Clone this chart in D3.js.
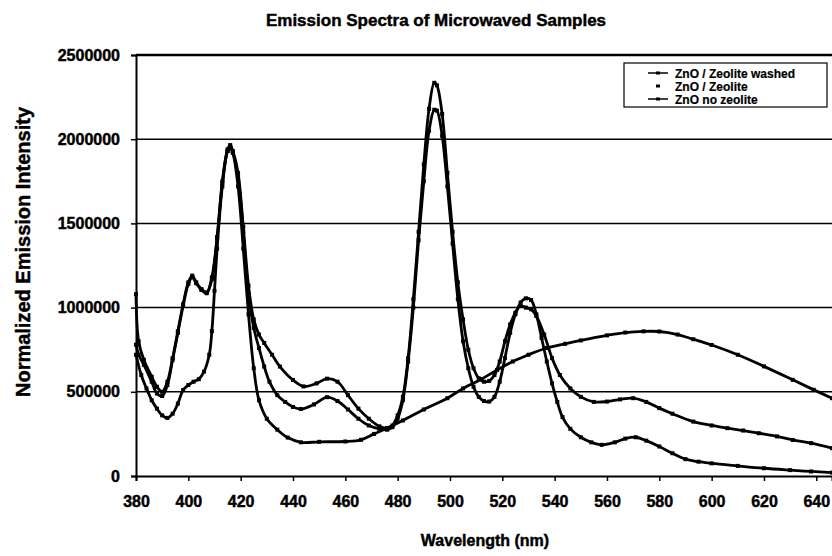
<!DOCTYPE html>
<html>
<head>
<meta charset="utf-8">
<script src="https://cdn.jsdelivr.net/npm/d3@7"></script>
<style>
  html, body { margin: 0; padding: 0; background: #fff; }
  svg text { font-family: "Liberation Sans", Arial, sans-serif; font-weight: bold; fill: #000; stroke: #000; stroke-width: 0.45px; }
</style>
</head>
<body>
<div id="chart"></div>
<script>
// --- данные ---
const xTicks = [380, 400, 420, 440, 460, 480, 500, 520, 540, 560, 580, 600, 620, 640];
const yTicks = [0, 500000, 1000000, 1500000, 2000000, 2500000];
const seriesNames = ["ZnO / Zeolite washed", "ZnO / Zeolite", "ZnO no zeolite"];

// [длина волны, интенсивность]
const washed = [
  [380,1080000],[381,800000],[383,690000],[386,590000],[388,530000],[390,500000],[392,560000],[394,700000],
  [396,860000],[398,1020000],[400,1150000],[401.5,1190000],[403,1150000],[405,1110000],[407,1090000],[409,1180000],
  [411,1420000],[413,1750000],[415,1940000],[416,1965000],[417,1930000],[419,1800000],[421,1480000],[423,1130000],
  [425,930000],[427,840000],[429,790000],[432,720000],[435,650000],[440,570000],[444,532000],[449,550000],
  [453,578000],[457,560000],[461,480000],[465,400000],[469,340000],[473,295000],[476,285000],[478,300000],
  [480,360000],[482,470000],[484,700000],[486,1050000],[488,1450000],[490,1850000],[492,2180000],[494,2335000],
  [495,2320000],[497,2150000],[499,1800000],[501,1450000],[503,1150000],[505,930000],[507,750000],[509,640000],
  [511,580000],[513,560000],[515,565000],[517,600000],[519,680000],[521,800000],[523,900000],[525,970000],
  [527,1010000],[529,1000000],[531,990000],[533,950000],[536,840000],[539,700000],[542,600000],[546,520000],
  [550,470000],[555,440000],[560,442000],[565,455000],[570,462000],[575,440000],[580,403000],[585,370000],
  [593,323000],[600,300000],[606,284000],[612,270000],[618,254000],[625,235000],[631,214000],[638,195000],[646,165000]
];
const zeolite = [
  [380,780000],[381,720000],[383,660000],[386,560000],[388,490000],[390,475000],[392,540000],[394,690000],
  [396,850000],[398,1010000],[400,1140000],[401.5,1180000],[403,1145000],[405,1105000],[407,1085000],[409,1170000],
  [411,1410000],[413,1740000],[415,1930000],[416,1955000],[417,1920000],[419,1780000],[421,1450000],[423,1080000],
  [425,880000],[427,760000],[429,650000],[431,560000],[434,480000],[437,440000],[440,410000],[443,398000],
  [448,425000],[453,468000],[457,445000],[461,395000],[465,340000],[469,300000],[473,280000],[476,275000],
  [478,290000],[480,340000],[482,450000],[484,680000],[486,1000000],[488,1400000],[490,1750000],[492,2050000],
  [494,2175000],[495,2170000],[497,2020000],[499,1720000],[501,1380000],[503,1050000],[505,800000],[507,640000],
  [509,530000],[511,470000],[513,445000],[515,442000],[517,470000],[519,560000],[521,700000],[523,850000],
  [525,960000],[527,1030000],[529,1055000],[531,1045000],[533,960000],[535,820000],[537,680000],[539,550000],
  [541,440000],[543,350000],[546,280000],[550,230000],[554,200000],[558,185000],[563,200000],[567,222000],
  [571,230000],[575,210000],[580,175000],[585,135000],[590,100000],[595,85000],[600,75000],[610,60000],
  [620,46000],[630,35000],[638,27000],[646,20000]
];
const noZeolite = [
  [380,720000],[382,600000],[384,520000],[386,450000],[388,400000],[390,360000],[392,345000],[394,370000],
  [396,430000],[398,510000],[400,540000],[402,560000],[404,575000],[406,620000],[408,720000],[409,860000],
  [410,1100000],[411,1350000],[413,1720000],[415,1930000],[416,1950000],[417,1920000],[419,1720000],[421,1350000],
  [423,960000],[425,640000],[427,450000],[430,340000],[434,275000],[438,228000],[443,200000],[450,203000],
  [460,205000],[466,215000],[471,250000],[476,285000],[482,330000],[490,395000],[499,462000],[505,520000],
  [512,575000],[518,630000],[524,680000],[530,720000],[537,760000],[544,785000],[550,805000],[560,835000],
  [567,852000],[574,859000],[580,858000],[587,840000],[593,812000],[600,778000],[610,720000],[620,651000],
  [631,571000],[639,512000],[646,462000]
];

const W = 832, H = 556;
const margin = { top: 55, right: 0, bottom: 80, left: 136 };

const svg = d3.select("#chart").append("svg")
    .attr("width", W).attr("height", H)
    .attr("viewBox", [0, 0, W, H]);

const x = d3.scaleLinear().domain([380, 646]).range([margin.left, W - margin.right]);
const y = d3.scaleLinear().domain([0, 2500000]).range([H - margin.bottom, margin.top]);

// сетка
svg.append("g").selectAll("line").data(yTicks.filter(d => d > 0)).join("line")
    .attr("x1", margin.left).attr("x2", W)
    .attr("y1", d => y(d)).attr("y2", d => y(d))
    .attr("stroke", "#000").attr("stroke-width", d => d === 2500000 ? 2.5 : 1.5);

// оси
const xAxis = svg.append("g").attr("transform", `translate(0,${y(0)})`)
    .call(d3.axisBottom(x).tickValues(xTicks).tickSize(5).tickPadding(15).tickFormat(d3.format("d")));
const yAxis = svg.append("g").attr("transform", `translate(${margin.left},0)`)
    .call(d3.axisLeft(y).tickValues(yTicks).tickSize(5).tickPadding(11).tickFormat(d3.format("d")));
[xAxis, yAxis].forEach(a => {
    a.select(".domain").attr("stroke", "#000").attr("stroke-width", 2);
    a.selectAll(".tick line").attr("stroke", "#000").attr("stroke-width", 1.5);
    a.selectAll(".tick text").style("font-size", "16px").attr("fill", "#000");
});

// кривые
const line = d3.line().x(d => x(d[0])).y(d => y(d[1])).curve(d3.curveCatmullRom);
const plot = svg.append("g");
[washed, zeolite, noZeolite].forEach(data => {
    plot.append("path").datum(data)
        .attr("fill", "none").attr("stroke", "#000").attr("stroke-width", 2.8)
        .attr("d", line);
    plot.append("g").selectAll("rect").data(data).join("rect")
        .attr("x", d => x(d[0]) - 2).attr("y", d => y(d[1]) - 2)
        .attr("width", 4).attr("height", 4).attr("fill", "#000");
});

// подписи
svg.append("text").attr("x", 436).attr("y", 26).attr("text-anchor", "middle")
    .style("font-size", "17px").text("Emission Spectra of Microwaved Samples");
svg.append("text").attr("x", 485).attr("y", 546).attr("text-anchor", "middle")
    .style("font-size", "16px").text("Wavelength (nm)");
svg.append("text").attr("transform", "translate(30,252) rotate(-90)")
    .attr("text-anchor", "middle").style("font-size", "20px").text("Normalized Emission Intensity");

// легенда
const legend = svg.append("g").attr("transform", "translate(624,63)");
legend.append("rect").attr("width", 203).attr("height", 44)
    .attr("fill", "#fff").attr("stroke", "#000").attr("stroke-width", 1.2);
const items = legend.selectAll(".legend-item").data(seriesNames).join("g")
    .attr("transform", (d, i) => `translate(0,${10 + i * 13})`);
items.filter((d, i) => i !== 1).append("line")
    .attr("x1", 24).attr("x2", 44).attr("stroke", "#000").attr("stroke-width", 1.5);
items.append("rect").attr("x", 32).attr("y", -1.5).attr("width", 4).attr("height", 3).attr("fill", "#000");
items.append("text").attr("x", 51).attr("y", 4.5).style("font-size", "12px").style("stroke-width", "0.2px").text(d => d);
</script>
</body>
</html>
